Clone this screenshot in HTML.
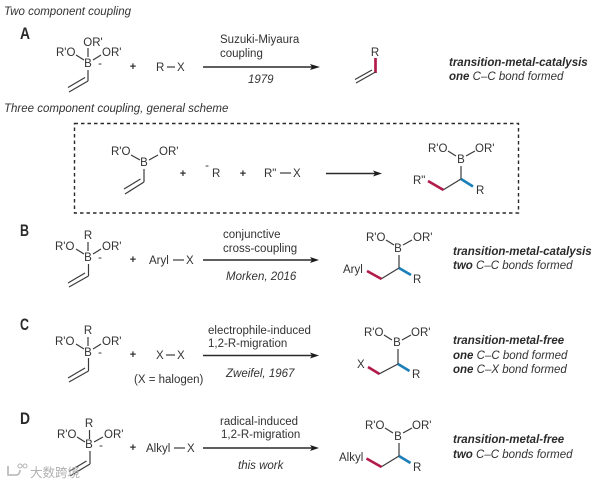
<!DOCTYPE html>
<html>
<head>
<meta charset="utf-8">
<style>
html,body{margin:0;padding:0;background:#fff;width:600px;height:484px;overflow:hidden}
svg{display:block}
text{font-family:"Liberation Sans","Noto Sans CJK SC",sans-serif;font-size:11.5px;fill:#333}
.i{font-style:italic}
.b{font-weight:bold;font-style:italic;fill:#2c2c2c}
.L{font-weight:bold;font-size:17px;fill:#2c2c2c}
.m{text-anchor:middle}
.p{font-weight:bold;font-size:11px}
line,polyline{stroke:#3a3a3a;stroke-width:1.2;fill:none}
.arrow{stroke:#2c2c2c;stroke-width:1.4}
.red{stroke:#b21a4b;stroke-width:2.7}
.blue{stroke:#1a7fb8;stroke-width:2.7}
polygon{fill:#1e1e1e}
</style>
</head>
<body>
<svg width="600" height="484" viewBox="0 0 600 484" xmlns="http://www.w3.org/2000/svg">
<defs><filter id="soft" x="0" y="0" width="100%" height="100%"><feGaussianBlur stdDeviation="0.25"/></filter></defs>
<g filter="url(#soft)">

<!-- Headers -->
<text x="4" y="15" class="i">Two component coupling</text>
<text x="4" y="112" class="i">Three component coupling, general scheme</text>

<!-- Panel labels -->
<text x="20" y="39" class="L" textLength="10" lengthAdjust="spacingAndGlyphs">A</text>
<text x="20" y="236" class="L" textLength="9" lengthAdjust="spacingAndGlyphs">B</text>
<text x="20" y="330" class="L" textLength="9" lengthAdjust="spacingAndGlyphs">C</text>
<text x="20" y="424" class="L" textLength="10" lengthAdjust="spacingAndGlyphs">D</text>

<!-- A reagent -->
<text x="93" y="46" class="m">OR'</text>
<text x="56" y="56">R'O</text>
<text x="102" y="56">OR'</text>
<text x="88" y="67" class="m">B</text>
<text x="100" y="67" class="m">-</text>
<line x1="88" y1="48" x2="88" y2="57"/>
<line x1="76" y1="55" x2="84" y2="60"/>
<line x1="93" y1="60" x2="101" y2="55"/>
<line x1="88" y1="70" x2="88" y2="81"/>
<line x1="88" y1="81" x2="69" y2="92"/>
<line x1="85" y1="77.5" x2="68" y2="87.5"/>
<text x="133" y="70" class="m p">+</text>
<text x="156" y="71">R</text>
<line x1="167" y1="67" x2="175" y2="67"/>
<text x="177" y="71">X</text>
<line class="arrow" x1="203" y1="67" x2="312" y2="67"/>
<polygon points="320,67 310,64 312,67 310,70"/>
<text x="220" y="43">Suzuki-Miyaura</text>
<text x="220" y="57">coupling</text>
<text x="248" y="83" class="i">1979</text>
<text x="375" y="56" class="m">R</text>
<line class="red" x1="375.5" y1="58" x2="375.5" y2="73"/>
<line x1="375.5" y1="72" x2="356" y2="83"/>
<line x1="372" y1="70" x2="355" y2="79.5"/>
<text x="449" y="66" class="b">transition-metal-catalysis</text>
<text x="449" y="80" class="i"><tspan class="b">one</tspan> C–C bond formed</text>

<!-- General box -->
<rect x="74.5" y="123.5" width="444" height="89.5" fill="none" stroke="#2c2c2c" stroke-width="1.4" stroke-dasharray="3.5 3"/>
<text x="111" y="155">R'O</text>
<text x="159" y="155">OR'</text>
<text x="144" y="166" class="m">B</text>
<line x1="131" y1="155" x2="140" y2="160"/>
<line x1="149" y1="160" x2="158" y2="155"/>
<line x1="144" y1="169" x2="144" y2="182"/>
<line x1="144" y1="182" x2="125" y2="194"/>
<line x1="140.5" y1="179" x2="124" y2="189"/>
<text x="183" y="177" class="m p">+</text>
<text x="207" y="169" class="m">-</text>
<text x="212" y="177">R</text>
<text x="243" y="177" class="m p">+</text>
<text x="264" y="177">R"</text>
<line x1="280" y1="173" x2="291" y2="173"/>
<text x="293" y="177">X</text>
<line class="arrow" x1="326" y1="173.5" x2="375" y2="173.5"/>
<polygon points="382,173.5 373,170.5 375,173.5 373,176.5"/>
<text x="428" y="152">R'O</text>
<text x="475" y="152">OR'</text>
<text x="461" y="163" class="m">B</text>
<line x1="448" y1="151" x2="456" y2="156"/>
<line x1="466" y1="156" x2="475" y2="151"/>
<line x1="461" y1="166" x2="461" y2="179"/>
<line x1="461" y1="179" x2="443" y2="190"/>
<line class="blue" x1="461" y1="179" x2="473" y2="186.5"/>
<line class="red" x1="443.5" y1="190" x2="428" y2="181"/>
<text x="413" y="184">R"</text>
<text x="476" y="194">R</text>

<!-- B reagent -->
<text x="88" y="239" class="m">R</text>
<text x="55" y="250">R'O</text>
<text x="102" y="250">OR'</text>
<text x="88" y="261" class="m">B</text>
<text x="100" y="261" class="m">-</text>
<line x1="88" y1="242" x2="88" y2="251"/>
<line x1="76" y1="249" x2="84" y2="254"/>
<line x1="93" y1="254" x2="101" y2="249"/>
<line x1="88.5" y1="264" x2="88.5" y2="276"/>
<line x1="88.5" y1="276" x2="69" y2="287"/>
<line x1="85" y1="273" x2="68" y2="283"/>
<text x="133" y="263" class="m p">+</text>
<text x="149" y="264">Aryl</text>
<line x1="173" y1="260" x2="184" y2="260"/>
<text x="186" y="264">X</text>
<line class="arrow" x1="203" y1="260" x2="312" y2="260"/>
<polygon points="319,260 310,257 312,260 310,263"/>
<text x="223" y="238">conjunctive</text>
<text x="223" y="252">cross-coupling</text>
<text x="226" y="280" class="i">Morken, 2016</text>
<text x="366" y="241">R'O</text>
<text x="413" y="241">OR'</text>
<text x="398" y="252" class="m">B</text>
<line x1="386" y1="240" x2="394" y2="245"/>
<line x1="403" y1="245" x2="412" y2="240"/>
<line x1="399" y1="255" x2="399" y2="268"/>
<line x1="399" y1="268" x2="381" y2="279"/>
<line class="blue" x1="399" y1="268" x2="411" y2="275"/>
<line class="red" x1="381.5" y1="279" x2="367" y2="271"/>
<text x="343" y="273">Aryl</text>
<text x="413" y="283">R</text>
<text x="453" y="255" class="b">transition-metal-catalysis</text>
<text x="453" y="269" class="i"><tspan class="b">two</tspan> C–C bonds formed</text>

<!-- C reagent -->
<text x="88" y="334" class="m">R</text>
<text x="55" y="345">R'O</text>
<text x="102" y="345">OR'</text>
<text x="88" y="356" class="m">B</text>
<text x="100" y="356" class="m">-</text>
<line x1="88" y1="337" x2="88" y2="346"/>
<line x1="76" y1="344" x2="84" y2="349"/>
<line x1="93" y1="349" x2="101" y2="344"/>
<line x1="88.5" y1="358" x2="88.5" y2="371"/>
<line x1="88.5" y1="371" x2="69" y2="382"/>
<line x1="85" y1="368" x2="68" y2="378"/>
<text x="133" y="358" class="m p">+</text>
<text x="156" y="359">X</text>
<line x1="166" y1="355" x2="175" y2="355"/>
<text x="177" y="359">X</text>
<text x="134" y="383">(X = halogen)</text>
<line class="arrow" x1="203" y1="355.5" x2="312" y2="355.5"/>
<polygon points="319,355.5 310,352.5 312,355.5 310,358.5"/>
<text x="208" y="334">electrophile-induced</text>
<text x="208" y="347">1,2-R-migration</text>
<text x="226" y="377" class="i">Zweifel, 1967</text>
<text x="364" y="336">R'O</text>
<text x="411" y="336">OR'</text>
<text x="397" y="346" class="m">B</text>
<line x1="384" y1="335" x2="392" y2="340"/>
<line x1="402" y1="340" x2="411" y2="335"/>
<line x1="398" y1="349" x2="398" y2="364"/>
<line x1="398" y1="364" x2="379" y2="374"/>
<line class="blue" x1="398" y1="364" x2="409.5" y2="371"/>
<line class="red" x1="379.5" y1="374" x2="368" y2="367"/>
<text x="357" y="368">X</text>
<text x="412" y="378">R</text>
<text x="453" y="344" class="b">transition-metal-free</text>
<text x="453" y="359" class="i"><tspan class="b">one</tspan> C–C bond formed</text>
<text x="453" y="373" class="i"><tspan class="b">one</tspan> C–X bond formed</text>

<!-- D reagent -->
<text x="89" y="427" class="m">R</text>
<text x="57" y="438">R'O</text>
<text x="104" y="438">OR'</text>
<text x="89" y="448" class="m">B</text>
<text x="101" y="449" class="m">-</text>
<line x1="89.5" y1="430" x2="89.5" y2="439"/>
<line x1="77" y1="437" x2="85" y2="442"/>
<line x1="94" y1="442" x2="103" y2="437"/>
<line x1="90" y1="451" x2="90" y2="464"/>
<line x1="90" y1="464" x2="70" y2="476"/>
<line x1="86.5" y1="461" x2="69" y2="471.5"/>
<text x="133" y="451" class="m p">+</text>
<text x="146" y="452">Alkyl</text>
<line x1="174" y1="448" x2="185" y2="448"/>
<text x="187" y="452">X</text>
<line class="arrow" x1="203" y1="448" x2="312" y2="448"/>
<polygon points="319,448 310,445 312,448 310,451"/>
<text x="220" y="425">radical-induced</text>
<text x="221" y="438">1,2-R-migration</text>
<text x="238" y="469" class="i">this work</text>
<text x="365" y="429">R'O</text>
<text x="412" y="429">OR'</text>
<text x="398" y="440" class="m">B</text>
<line x1="385" y1="428" x2="393" y2="433"/>
<line x1="403" y1="433" x2="412" y2="428"/>
<line x1="399" y1="443" x2="399" y2="456"/>
<line x1="399" y1="456" x2="381" y2="467"/>
<line class="blue" x1="399" y1="456" x2="410.5" y2="463"/>
<line class="red" x1="381.5" y1="467" x2="366.5" y2="458.5"/>
<text x="339" y="461">Alkyl</text>
<text x="413" y="471">R</text>
<text x="453" y="443" class="b">transition-metal-free</text>
<text x="453" y="458" class="i"><tspan class="b">two</tspan> C–C bonds formed</text>

<!-- Watermark -->
<path d="M8 466 v9 h9 a5 5 0 0 0 3 -5" fill="none" stroke="#b4b4b4" stroke-width="1.6"/>
<circle cx="20" cy="466" r="2" fill="none" stroke="#b4b4b4"/>
<circle cx="25" cy="466" r="2" fill="none" stroke="#b4b4b4"/>
<text x="30" y="477" style="font-size:12.5px;fill:#b0b0b0">大数跨境</text>
</g>
</svg>
</body>
</html>
